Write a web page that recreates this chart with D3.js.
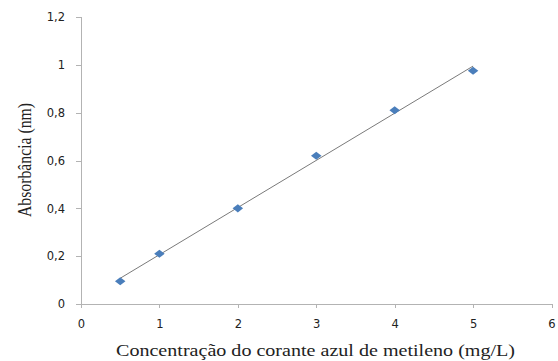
<!DOCTYPE html>
<html><head><meta charset="utf-8">
<script src="https://cdn.jsdelivr.net/npm/d3@7"></script>
<style>body{margin:0;background:#fff}</style>
</head><body>
<svg id="c" width="558" height="361"></svg>
<script>
const concentrations = [0.5, 1, 2, 3, 4, 5];
const absorbances = [0.095, 0.21, 0.40, 0.62, 0.81, 0.975];
const xTicks = [0, 1, 2, 3, 4, 5, 6];
const yTicks = [0, 0.2, 0.4, 0.6, 0.8, 1, 1.2];

const svg = d3.select("#c");
const x = d3.scaleLinear().domain([0, 6]).range([81, 551.5]);
const y = d3.scaleLinear().domain([0, 1.2]).range([304, 17]);
const fmt = d => String(d).replace(".", ",");

const gx = svg.append("g").attr("transform", "translate(0,304)")
  .call(d3.axisBottom(x).tickValues(xTicks).tickSize(4).tickPadding(12).tickFormat(fmt));
const gy = svg.append("g").attr("transform", "translate(81,0)")
  .call(d3.axisLeft(y).tickValues(yTicks).tickSize(5).tickPadding(11).tickFormat(fmt));
[gx, gy].forEach(g => {
  g.selectAll("path,line").attr("stroke", "#b3b3b3").attr("shape-rendering", "crispEdges");
  g.selectAll("text").attr("fill", "#222").style("font-family", "DejaVu Sans, Verdana, sans-serif").style("font-size", "11.5px");
});

// linear trendline (least squares)
const n = concentrations.length;
const mx = d3.mean(concentrations), my = d3.mean(absorbances);
let sxy = 0, sxx = 0;
for (let i = 0; i < n; i++) { sxy += (concentrations[i]-mx)*(absorbances[i]-my); sxx += (concentrations[i]-mx)**2; }
const slope = sxy / sxx, icpt = my - slope * mx;
const x0 = d3.min(concentrations), x1 = d3.max(concentrations);
svg.append("line")
  .attr("x1", x(x0)).attr("y1", y(icpt + slope*x0))
  .attr("x2", x(x1)).attr("y2", y(icpt + slope*x1))
  .attr("stroke", "#7a7a7a").attr("stroke-width", 1);

svg.selectAll(".pt").data(concentrations).enter().append("path")
  .attr("d", d3.symbol().type(d3.symbolDiamond2).size(58))
  .attr("transform", (d, i) => `translate(${x(d)},${y(absorbances[i])}) scale(1.1,0.85)`)
  .attr("fill", "#4a7ebb");

svg.append("text").attr("x", 116).attr("y", 356)
  .attr("textLength", 399).attr("lengthAdjust", "spacingAndGlyphs")
  .style("font-family", "Liberation Serif, Times New Roman, serif").style("font-size", "16.5px").attr("fill", "#222")
  .text("Concentração do corante azul de metileno (mg/L)");
svg.append("text").attr("transform", "translate(30.5,160) rotate(-90) scale(1,1.3)").attr("text-anchor", "middle")
  .attr("textLength", 114).attr("lengthAdjust", "spacingAndGlyphs")
  .style("font-family", "Liberation Serif, Times New Roman, serif").style("font-size", "15px").attr("fill", "#222")
  .text("Absorbância (nm)");
</script>
</body></html>
